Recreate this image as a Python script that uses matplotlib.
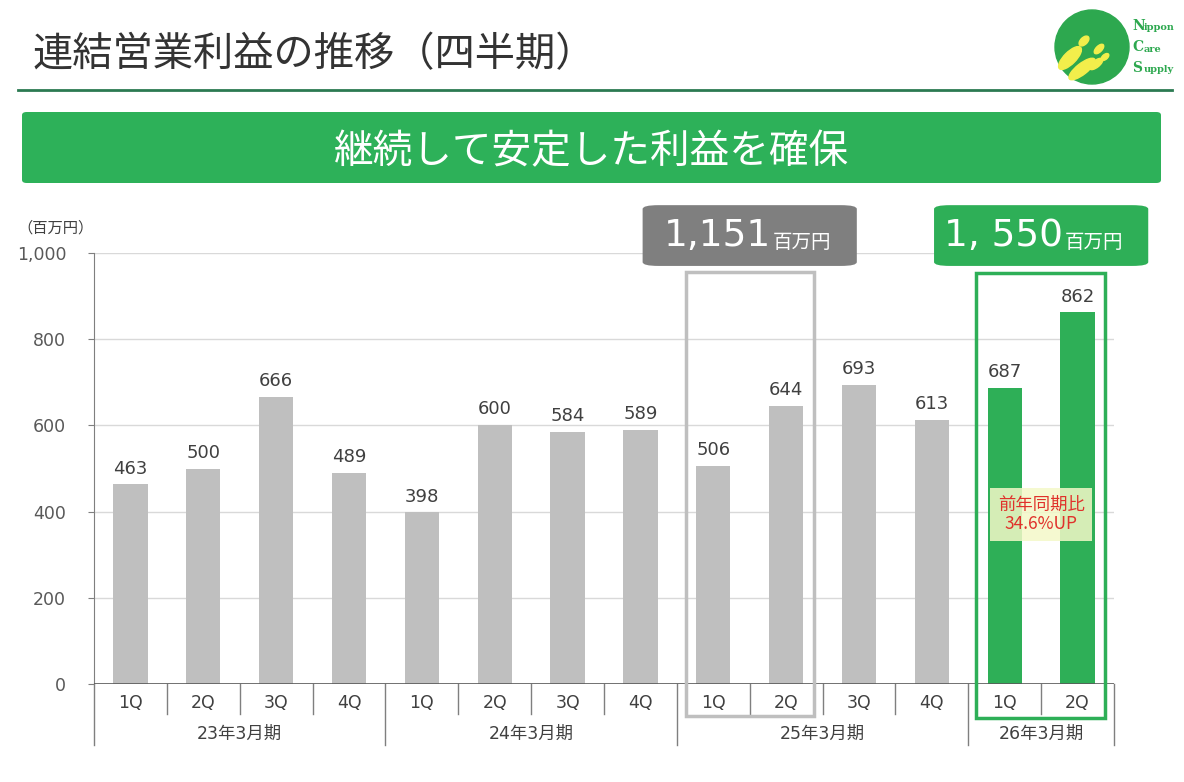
import numpy as np
import matplotlib.pyplot as plt
from matplotlib.patches import FancyBboxPatch, Rectangle, Circle, Ellipse

plt.rcParams['font.family'] = ['DejaVu Sans', 'Noto Sans CJK JP']

# データ
quarters = ['1Q', '2Q', '3Q', '4Q', '1Q', '2Q', '3Q', '4Q', '1Q', '2Q', '3Q', '4Q', '1Q', '2Q']
values = [463, 500, 666, 489, 398, 600, 584, 589, 506, 644, 693, 613, 687, 862]
periods = ['23年3月期', '24年3月期', '25年3月期', '26年3月期']
period_sizes = [4, 4, 4, 2]
callout_gray = '1,151'
callout_green = '1, 550'
yoy_text = '前年同期比\n34.6%UP'
yticks = [0, 200, 400, 600, 800, 1000]

GRAY = '#BFBFBF'
GREEN = '#2EAF57'
TXT = '#404040'
JP = ['Noto Sans CJK JP', 'DejaVu Sans']

fig = plt.figure(figsize=(11.84, 7.82), dpi=100)
ax = fig.add_axes([94 / 1184, 1 - 684 / 782, (1114 - 94) / 1184, (684 - 253) / 782])

x = np.arange(len(values))
colors = [GRAY] * 12 + [GREEN] * 2
ax.bar(x, values, width=0.47, color=colors, zorder=3)
for xi, v in zip(x, values):
    ax.annotate(str(v), (xi, v), xytext=(0, 5), textcoords='offset points',
                ha='center', va='bottom', fontsize=13, color=TXT)

ax.set_xlim(-0.5, len(values) - 0.5)
ax.set_ylim(0, 1000)
ax.set_yticks(yticks)
ax.set_yticklabels([f'{t:,}' for t in yticks], fontsize=12.5, color='#595959')
ax.tick_params(axis='y', length=4, color='#7F7F7F', pad=16)
ax.set_xticks([])
for t in yticks[1:]:
    ax.axhline(t, color='#D9D9D9', lw=1, zorder=1)
for s in ['top', 'right', 'bottom']:
    ax.spines[s].set_visible(False)
ax.spines['left'].set_color('#7F7F7F')
ax.spines['left'].set_bounds(0, 1000)
ax.axhline(0, color='#595959', lw=1.2, zorder=4)

# x軸のカテゴリ
for xi, q in zip(x, quarters):
    ax.text(xi, -45, q, ha='center', va='center', fontsize=12.5, color=TXT, clip_on=False)
bounds = np.cumsum([0] + period_sizes) - 0.5
for b in np.arange(-0.5, len(values)):
    if b in bounds:
        ax.plot([b, b], [0, -142], color='#7F7F7F', lw=1, clip_on=False)
    else:
        ax.plot([b, b], [0, -70], color='#7F7F7F', lw=1, clip_on=False)
for i, p in enumerate(periods):
    ax.text((bounds[i] + bounds[i + 1]) / 2, -115, p, ha='center', va='center',
            fontsize=12.5, color=TXT, clip_on=False)

# 枠
ax.add_patch(Rectangle((7.62, -74), 9.38 - 7.62, 956 + 74, fill=False,
                       ec='#BFBFBF', lw=2.5, clip_on=False, zorder=5))
ax.add_patch(Rectangle((11.6, -78), 13.38 - 11.6, 954 + 78, fill=False,
                       ec=GREEN, lw=2.5, clip_on=False, zorder=5))

# 吹き出し
def callout(cx, num, fc):
    ax.add_patch(FancyBboxPatch((cx - 1.47, 970), 2.94, 141,
                                boxstyle='round,pad=0,rounding_size=0.22',
                                fc=fc, ec='none', clip_on=False, zorder=6,
                                mutation_aspect=40))
    ax.text(cx + 0.3, 1040, num, ha='right', va='center', fontsize=27,
            color='white', clip_on=False, zorder=7)
    ax.text(cx + 0.32, 1025, '百万円', ha='left', va='center', fontsize=14,
            color='white', clip_on=False, zorder=7, family=JP)

callout(8.5, callout_gray, '#7F7F7F')
callout(12.5, callout_green, GREEN)

ax.text(12.5, 393, yoy_text, ha='center', va='center', fontsize=12.5,
        color='#E0322B', linespacing=1.1, zorder=7, family=JP,
        bbox=dict(boxstyle='square,pad=0.45', fc='#F4F9C8', ec='none', alpha=0.85))

# 単位
fig.text(55 / 1184, 1 - 228 / 782, '（百万円）', ha='center', va='center',
         fontsize=11, color=TXT, family=JP)

# タイトル
fig.text(33 / 1184, 1 - 55 / 782, '連結営業利益の推移（四半期）', ha='left',
         va='center', fontsize=29, color='#333333', family=JP)
fig.add_artist(plt.Line2D([18 / 1184, 1172 / 1184], [1 - 90 / 782] * 2,
                          color='#2B7A52', lw=2))
fig.add_artist(FancyBboxPatch((22 / 1184, 1 - 183 / 782), (1161 - 22) / 1184, 71 / 782,
                              boxstyle='round,pad=0,rounding_size=0.004',
                              transform=fig.transFigure, fc='#2DB159', ec='none'))
fig.text(0.5 * (22 + 1161) / 1184, 1 - 152 / 782, '継続して安定した利益を確保',
         ha='center', va='center', fontsize=28.5, color='white', family=JP)

# ロゴ
lax = fig.add_axes([1050 / 1184, 1 - 88 / 782, 130 / 1184, 80 / 782])
lax.set_xlim(0, 130)
lax.set_ylim(0, 80)
lax.set_aspect('equal')
lax.axis('off')
lax.add_patch(Circle((42, 41), 37, color='#2DA84F'))
for (ex, ey, w, h, a) in [(20, 30, 30, 12, 45), (32, 19, 32, 11, 38), (34, 47, 12, 7, 45),
                          (49, 39, 12, 6, 45), (46, 24, 16, 7, 38), (55, 31, 9, 5, 40)]:
    lax.add_patch(Ellipse((ex, ey), w, h, angle=a, color='#F2EE4B'))
for i, (cap, rest) in enumerate([('N', 'ippon'), ('C', 'are'), ('S', 'upply')]):
    yy = 62 - i * 21
    lax.text(82, yy, cap, fontsize=10, color='#2DA84F', family='DejaVu Serif',
             fontweight='bold', va='center')
    lax.text(94, yy - 2, rest, fontsize=7, color='#2DA84F', family='DejaVu Serif',
             fontweight='bold', va='center')

fig.savefig('out.png', dpi=100)
